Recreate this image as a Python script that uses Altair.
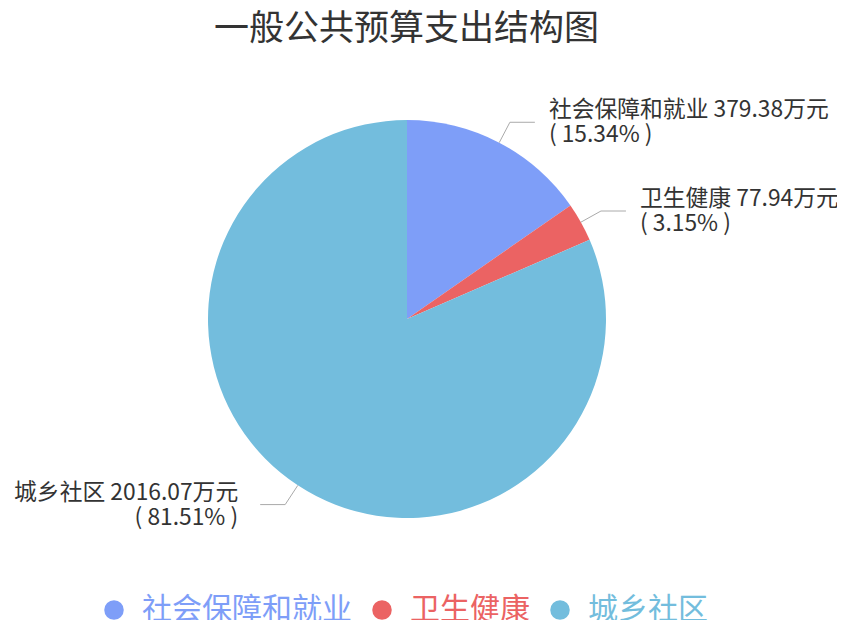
import altair as alt
import pandas as pd

names = ["社会保障和就业", "卫生健康", "城乡社区"]
values = [379.38, 77.94, 2016.07]
colors = ["#7E9EF8", "#EB6363", "#73BDDD"]
title_text = "一般公共预算支出结构图"

FONT = "Noto Sans CJK SC"
CX, CY, R = 399, 251, 199
L1, L2 = 23, 25

df = pd.DataFrame({"name": names, "value": values})
base = alt.Chart(df).transform_window(idx="row_number()")

color = alt.Color(
    "name:N",
    scale=alt.Scale(domain=names, range=colors),
    sort=names,
    legend=alt.Legend(
        title=None,
        orient="none",
        direction="horizontal",
        legendX=91,
        legendY=527,
        padding=0,
        symbolType="circle",
        symbolSize=380,
        symbolStrokeWidth=0,
        symbolOpacity=1,
        labelFont=FONT,
        labelFontSize=30,
        labelOffset=13,
        labelLimit=0,
        columnPadding=15,
        gridAlign="none",
        labelColor={"expr": "scale('color', datum.value)"},
    ),
)

pie = base.mark_arc(radius=R).encode(
    theta=alt.Theta("value:Q", stack=True),
    color=color,
    order=alt.Order("idx:Q"),
    x=alt.value(CX),
    y=alt.value(CY),
)

lab = (
    base.transform_joinaggregate(total="sum(value)")
    .transform_window(cum="sum(value)", sort=[alt.SortField("idx")], frame=[None, 0])
    .transform_calculate(mid="(datum.cum - datum.value/2)/datum.total*2*PI")
    .transform_calculate(s="sin(datum.mid)", c="cos(datum.mid)")
    .transform_calculate(side="datum.s >= 0 ? 1 : -1")
    .transform_calculate(
        x0=f"{CX} + {R}*datum.s",
        y0=f"{CY} - {R}*datum.c",
        x1=f"{CX} + {R + L1}*datum.s",
        y1=f"{CY} - {R + L1}*datum.c",
    )
    .transform_calculate(x2=f"datum.x1 + {L2}*datum.side")
    .transform_calculate(
        tx="datum.x2 + (datum.side > 0 ? 14 : -22)",
        ty1="datum.y1 - 12",
        ty2="datum.y1 + 13",
        line1="datum.name + ' ' + format(datum.value, '.2f') + '万元'",
        line2="'(  ' + format(datum.value/datum.total*100, '.2f') + '%  )'",
    )
)

seg1 = lab.mark_rule(color="#aaaaaa", strokeWidth=1).encode(
    x=alt.X("x0:Q", scale=None), y=alt.Y("y0:Q", scale=None), x2="x1:Q", y2="y1:Q"
)
seg2 = lab.mark_rule(color="#aaaaaa", strokeWidth=1).encode(
    x=alt.X("x1:Q", scale=None), y=alt.Y("y1:Q", scale=None), x2="x2:Q", y2="y1:Q"
)

def texts(flt, align):
    sub = lab.transform_filter(flt)
    t1 = sub.mark_text(align=align, baseline="middle", font=FONT, fontSize=22.8, color="#333333").encode(
        x=alt.X("tx:Q", scale=None), y=alt.Y("ty1:Q", scale=None), text="line1:N"
    )
    t2 = sub.mark_text(align=align, baseline="middle", font=FONT, fontSize=22.8, color="#333333").encode(
        x=alt.X("tx:Q", scale=None), y=alt.Y("ty2:Q", scale=None), text="line2:N"
    )
    return [t1, t2]

title = alt.Chart(alt.Data(values=[{"t": title_text}])).mark_text(
    align="center", baseline="middle", font=FONT, fontSize=35, color="#333333"
).encode(x=alt.value(398.5), y=alt.value(-39), text="t:N")

layers = [pie, seg1, seg2] + texts("datum.side > 0", "left") + texts("datum.side < 0", "right") + [title]

chart = (
    alt.layer(*layers)
    .properties(
        width=829,
        height=552,
        padding={"left": 0, "top": 60, "right": 0, "bottom": 0},
        autosize=alt.AutoSizeParams(type="none"),
    )
    .configure_view(strokeWidth=0)
)

chart.save("out.html", embed_options={"renderer": "svg", "actions": False})
